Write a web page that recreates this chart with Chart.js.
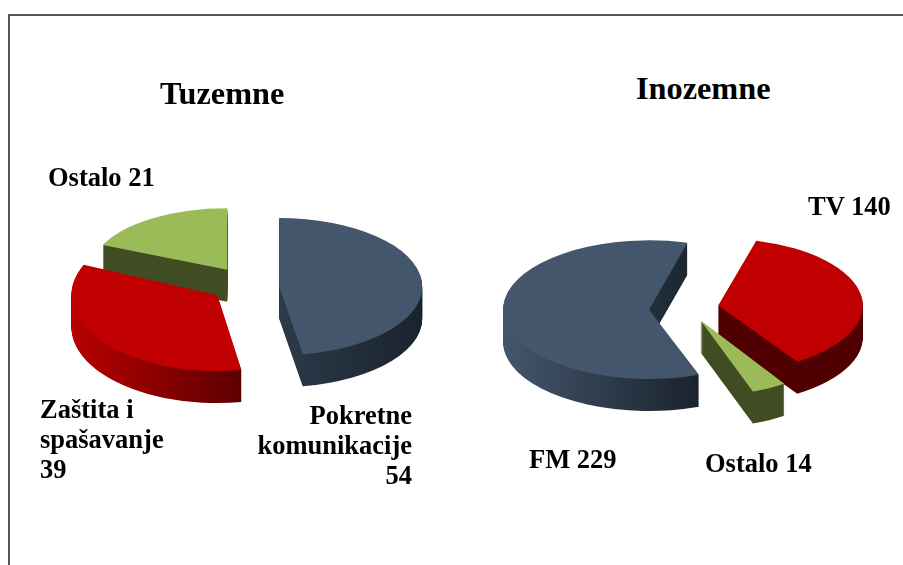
<!DOCTYPE html>
<html lang="hr">
<head>
    <meta charset="UTF-8">
    <title>Tuzemne / Inozemne</title>
    <script src="https://cdn.jsdelivr.net/npm/chart.js"></script>
    <style>
        html, body { margin: 0; height: 100%; background: #fff; overflow: hidden; }
        #frame { position: absolute; left: 8px; top: 14px; right: -5px; bottom: -5px;
                 border-top: 2px solid #555; border-left: 2px solid #555; }
        canvas { position: absolute; }
        .txt { position: absolute; font: bold 26.5px/30px "Liberation Serif", serif; color: #000; }
        .title { font-size: 32.3px; line-height: 36px; white-space: nowrap; }
    </style>
</head>
<body>
    <div id="frame"></div>
    <canvas id="pieLeft" width="400" height="400" style="left:45px;top:82px"></canvas>
    <canvas id="pieRight" width="400" height="400" style="left:484px;top:106px"></canvas>

    <div class="txt title" style="left:160px;top:75px">Tuzemne</div>
    <div class="txt title" style="left:636px;top:70px">Inozemne</div>
    <div class="txt" id="l0" style="left:252px;top:400px;width:160px;text-align:right"></div>
    <div class="txt" id="l1" style="left:40px;top:394px;width:130px"></div>
    <div class="txt" id="l2" style="left:48px;top:162px;white-space:nowrap"></div>
    <div class="txt" id="r0" style="left:529px;top:444px;white-space:nowrap"></div>
    <div class="txt" id="r1" style="left:808px;top:191px;white-space:nowrap"></div>
    <div class="txt" id="r2" style="left:705px;top:448px;white-space:nowrap"></div>

    <script>
        // Podaci
        const tuzemneKategorije = ['Pokretne komunikacije', 'Zaštita i spašavanje', 'Ostalo'];
        const tuzemneVrijednosti = [54, 39, 21];
        const inozemneKategorije = ['FM', 'TV', 'Ostalo'];
        const inozemneVrijednosti = [229, 140, 14];

        const bojeVrh = ['#44566c', '#c00000', '#9bbb59'];
        const DUBINA = 32;       // visina stijenke u px
        const ODMAK = 35;        // koliko je kriska izvucena iz sredine

        tuzemneKategorije.forEach((k, i) => {
            document.getElementById('l' + i).textContent = k + ' ' + tuzemneVrijednosti[i];
        });
        inozemneKategorije.forEach((k, i) => {
            document.getElementById('r' + i).textContent = k + ' ' + inozemneVrijednosti[i];
        });

        // raspon x kriske, za gradijent stijenke
        function rasponX(arc) {
            let min = Infinity, max = -Infinity;
            for (let n = 0; n <= 24; n++) {
                const a = arc.startAngle + (arc.endAngle - arc.startAngle) * n / 24;
                min = Math.min(min, Math.cos(a));
                max = Math.max(max, Math.cos(a));
            }
            return [arc.x + min * arc.outerRadius, arc.x + max * arc.outerRadius];
        }

        // 3D izgled: stijenke su pomaknute kopije luka, vrh je spljosten.
        // Prednje kriske su u perspektivi malo vece pa svaka ima svoje mjerilo.
        const pie3d = {
            id: 'pie3d',
            beforeDatasetsDraw(chart, args, opts) {
                const ctx = chart.ctx;
                const arcs = chart.getDatasetMeta(0).data;

                function nacrtaj(arc, i, pomak) {
                    const mid = (arc.startAngle + arc.endAngle) / 2;
                    ctx.save();
                    ctx.translate(arc.x, arc.y + opts.spust[i] + pomak);
                    ctx.scale(opts.sirina[i], opts.plosnost[i]);
                    ctx.translate(Math.cos(mid) * ODMAK, Math.sin(mid) * ODMAK);
                    ctx.translate(-arc.x, -arc.y);
                    arc.draw(ctx);
                    ctx.restore();
                }

                arcs.forEach((arc, i) => {
                    const [x0, x1] = rasponX(arc);
                    const grad = ctx.createLinearGradient(x0, 0, x1, 0);
                    grad.addColorStop(0, opts.zidOd[i]);
                    grad.addColorStop(1, opts.zidDo[i]);
                    const stare = arc.options;
                    arc.options = Object.create(stare);
                    arc.options.backgroundColor = grad;
                    for (let d = DUBINA; d > 0; d--) nacrtaj(arc, i, d);
                    arc.options = stare;
                });
                arcs.forEach((arc, i) => nacrtaj(arc, i, 0));
                return false;
            }
        };

        function napraviPitu(id, kategorije, vrijednosti, rotacija, mjera) {
            return new Chart(document.getElementById(id), {
                type: 'pie',
                data: {
                    labels: kategorije,
                    datasets: [{
                        data: vrijednosti,
                        backgroundColor: bojeVrh,
                        borderWidth: 0
                    }]
                },
                options: {
                    responsive: false,
                    animation: false,
                    events: [],
                    rotation: rotacija,
                    radius: 146,
                    layout: { padding: 0 },
                    plugins: {
                        legend: { display: false },
                        tooltip: { enabled: false },
                        pie3d: mjera
                    }
                },
                plugins: [pie3d]
            });
        }

        napraviPitu('pieLeft', tuzemneKategorije, tuzemneVrijednosti, 0, {
            zidOd: ['#2c3a4a', '#b80000', '#404d22'],
            zidDo: ['#1a232d', '#5c0000', '#404d22'],
            sirina: [0.98, 1, 0.93],
            plosnost: [0.47, 0.52, 0.42],
            spust: [6, 2, 0]
        });
        napraviPitu('pieRight', inozemneKategorije, inozemneVrijednosti, 160, {
            zidOd: ['#44566c', '#500000', '#404d22'],
            zidDo: ['#1a232d', '#500000', '#404d22'],
            sirina: [1, 0.99, 1.05],
            plosnost: [0.475, 0.46, 0.52],
            spust: [3, 2, -2]
        });
    </script>
</body>
</html>
